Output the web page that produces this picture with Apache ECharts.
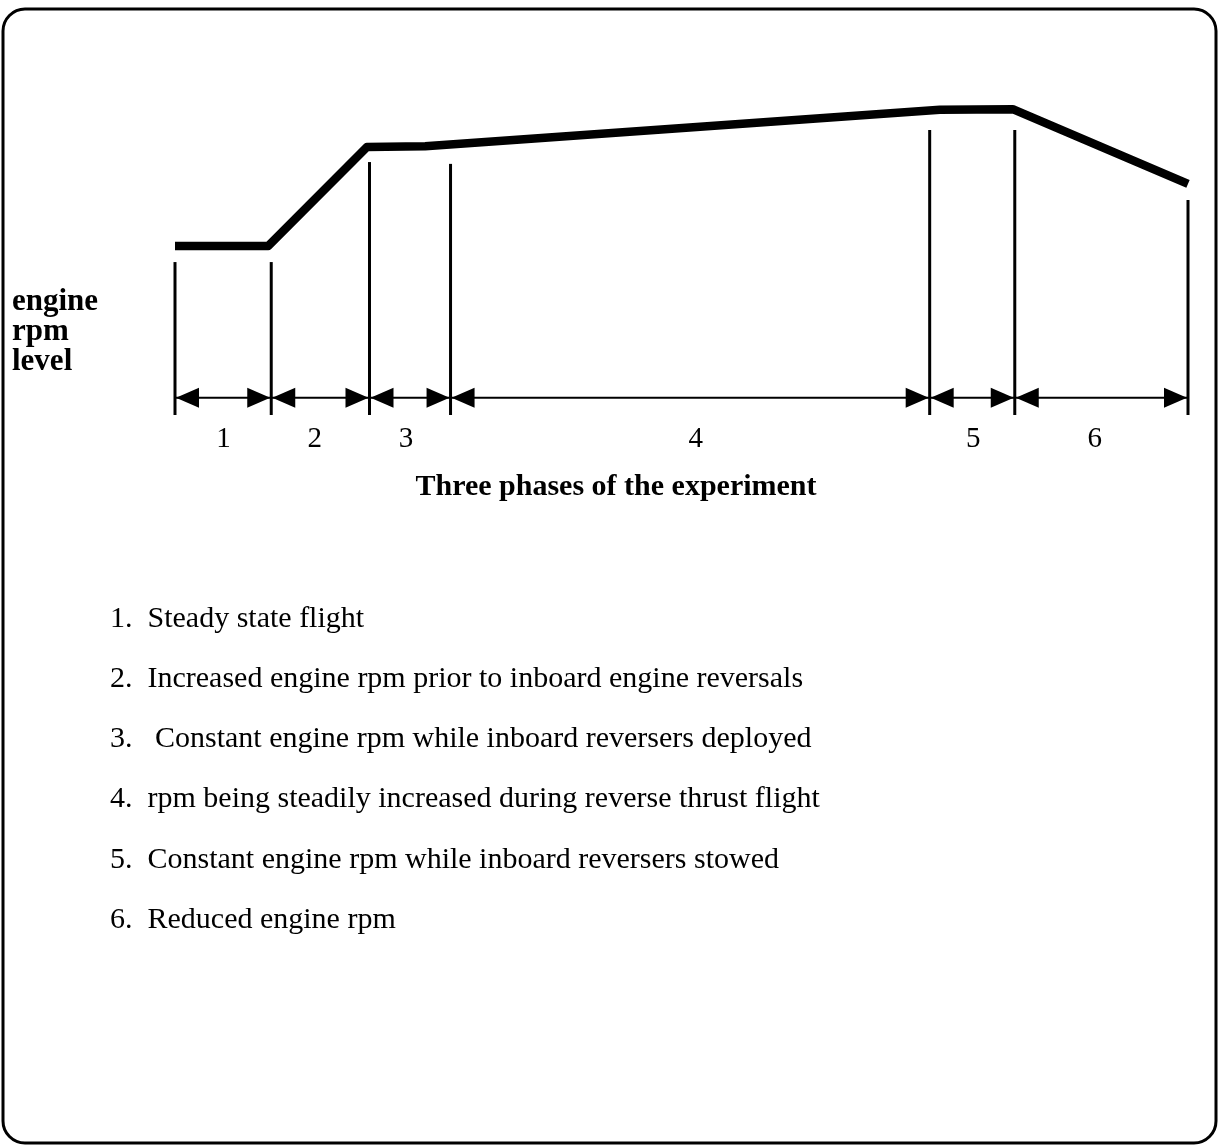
<!DOCTYPE html>
<html><head><meta charset="utf-8">
<script src="https://cdn.jsdelivr.net/npm/echarts@6/dist/echarts.min.js"></script>
<style>html,body{margin:0;padding:0;background:#fff}#c{width:1221px;height:1146px}</style>
</head><body><div id="c"></div>
<script>
// engine rpm trace (time units 0..100, rpm level in relative units)
const rpmTime  = [0, 9.2, 18.95, 24.7, 75.5, 82.7, 100];
const rpmLevel = [46.3, 46.3, 73.4, 73.6, 83.6, 83.8, 63.3];
// phase boundaries and the top of each boundary marker
const phaseBounds = [0, 9.5, 19.2, 27.2, 74.5, 82.9, 100];
const boundTops   = [41.9, 41.9, 69.3, 68.8, 78.1, 78.1, 58.9];
const phaseLabels = ['1', '2', '3', '4', '5', '6'];
const phaseLabelPos = [4.8, 13.8, 22.8, 51.4, 78.8, 90.8];
const arrowLevel = 4.7;
const xTitle = 'Three phases of the experiment';
const yTitle = ['engine', 'rpm', 'level'];
const noteNumbers = ['1.', '2.', '3.', '4.', '5.', '6.'];
const noteTexts = [
  'Steady state flight',
  'Increased engine rpm prior to inboard engine reversals',
  ' Constant engine rpm while inboard reversers deployed',
  'rpm being steadily increased during reverse thrust flight',
  'Constant engine rpm while inboard reversers stowed',
  'Reduced engine rpm'
];

const SERIF = '"Liberation Serif", "Times New Roman", serif';
const chart = echarts.init(document.getElementById('c'), null, {renderer: 'canvas'});

const phases = phaseLabels.map((l, i) => [phaseBounds[i], phaseBounds[i + 1], phaseLabelPos[i]]);
const noteGraphics = [];
noteTexts.forEach((t, i) => {
  const y = 619 + i * 60.2;
  noteGraphics.push({type: 'text', x: 110, y: y, style: {text: noteNumbers[i], font: '30px ' + SERIF, fill: '#000', verticalAlign: 'middle'}});
  noteGraphics.push({type: 'text', x: 140, y: y, style: {text: ' ' + t, font: '30px ' + SERIF, fill: '#000', verticalAlign: 'middle'}});
});

chart.setOption({
  animation: false,
  backgroundColor: '#fff',
  grid: {left: 175, top: 50, width: 1013, height: 365},
  xAxis: {type: 'value', min: 0, max: 100, show: false},
  yAxis: {type: 'value', min: 0, max: 100, show: false},
  graphic: [
    {type: 'rect', z: 0, shape: {x: 3, y: 9, width: 1213, height: 1134, r: 22},
     style: {fill: 'none', stroke: '#000', lineWidth: 3}},
    {type: 'text', x: 12, y: 287, style: {text: yTitle.join('\n'), font: 'bold 31px ' + SERIF, lineHeight: 30, fill: '#000'}},
    {type: 'text', x: 616, y: 487, style: {text: xTitle, font: 'bold 30px ' + SERIF, fill: '#000', align: 'center', verticalAlign: 'middle'}}
  ].concat(noteGraphics),
  series: [
    {
      type: 'line',
      data: rpmTime.map((t, i) => [t, rpmLevel[i]]),
      symbol: 'none',
      lineStyle: {color: '#000', width: 8.5, join: 'round'},
      z: 5
    },
    {
      type: 'custom',
      clip: false,
      data: phaseBounds.map((x, i) => [x, boundTops[i]]),
      renderItem: (params, api) => {
        const p0 = api.coord([api.value(0), 0]);
        const p1 = api.coord([api.value(0), api.value(1)]);
        return {type: 'line', shape: {x1: p0[0], y1: p0[1], x2: p1[0], y2: p1[1]},
                style: {stroke: '#000', lineWidth: 3}};
      }
    },
    {
      type: 'custom',
      clip: false,
      data: phases,
      renderItem: (params, api) => {
        const a = api.coord([api.value(0), arrowLevel]);
        const b = api.coord([api.value(1), arrowLevel]);
        const c = api.coord([api.value(2), arrowLevel]);
        const y = a[1], L = 24, H = 10;
        return {type: 'group', children: [
          {type: 'line', shape: {x1: a[0], y1: y, x2: b[0], y2: y}, style: {stroke: '#000', lineWidth: 2}},
          {type: 'polygon', shape: {points: [[a[0] + 1, y], [a[0] + L, y - H], [a[0] + L, y + H]]}, style: {fill: '#000'}},
          {type: 'polygon', shape: {points: [[b[0] - 1, y], [b[0] - L, y - H], [b[0] - L, y + H]]}, style: {fill: '#000'}},
          {type: 'text', x: c[0], y: y + 42,
           style: {text: phaseLabels[params.dataIndex], font: '29px ' + SERIF, fill: '#000', align: 'center', verticalAlign: 'middle'}}
        ]};
      }
    }
  ]
});
</script>
</body></html>
